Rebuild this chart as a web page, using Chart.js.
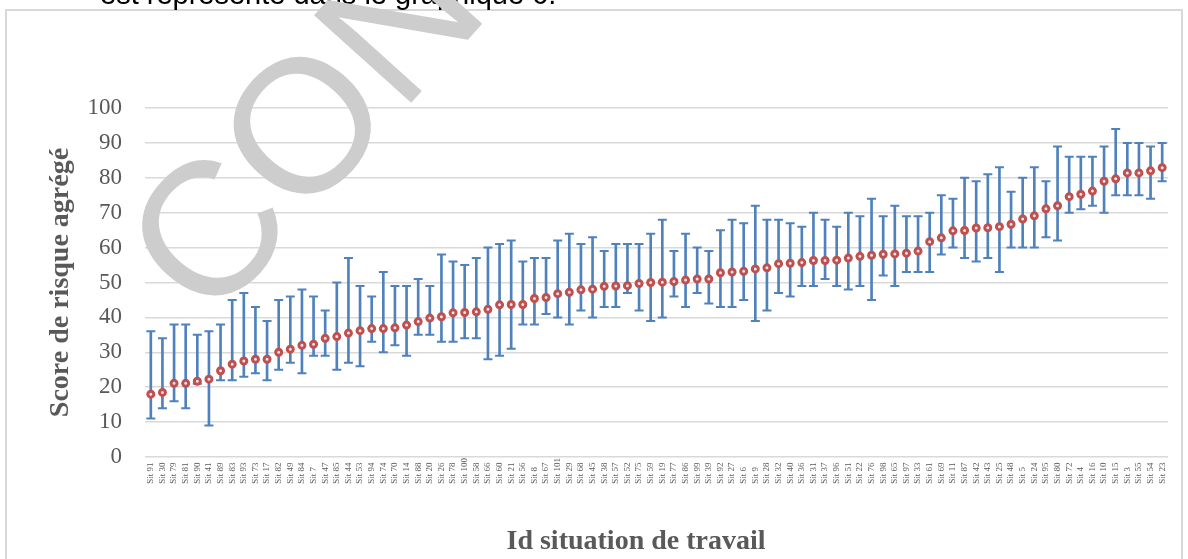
<!DOCTYPE html>
<html>
<head>
<meta charset="utf-8">
<script src="https://cdn.jsdelivr.net/npm/chart.js@4.4.0/dist/chart.umd.min.js"></script>
<style>
    body { margin: 0; background: #ffffff; }
    #wrap { width: 1188px; height: 559px; position: relative; }
</style>
</head>
<body>
<div id="wrap"><canvas id="riskChart"></canvas></div>
<script>
const situations = ['Sit 91', 'Sit 30', 'Sit 79', 'Sit 81', 'Sit 90', 'Sit 41', 'Sit 89', 'Sit 83', 'Sit 93', 'Sit 73',
    'Sit 17', 'Sit 82', 'Sit 49', 'Sit 84', 'Sit 7', 'Sit 47', 'Sit 85', 'Sit 44', 'Sit 53', 'Sit 94',
    'Sit 74', 'Sit 70', 'Sit 14', 'Sit 88', 'Sit 20', 'Sit 26', 'Sit 78', 'Sit 100', 'Sit 58', 'Sit 66',
    'Sit 60', 'Sit 21', 'Sit 56', 'Sit 8', 'Sit 67', 'Sit 101', 'Sit 29', 'Sit 68', 'Sit 45', 'Sit 38',
    'Sit 57', 'Sit 52', 'Sit 75', 'Sit 59', 'Sit 19', 'Sit 77', 'Sit 86', 'Sit 99', 'Sit 39', 'Sit 92',
    'Sit 27', 'Sit 6', 'Sit 9', 'Sit 28', 'Sit 32', 'Sit 40', 'Sit 36', 'Sit 31', 'Sit 37', 'Sit 96',
    'Sit 51', 'Sit 22', 'Sit 76', 'Sit 98', 'Sit 65', 'Sit 97', 'Sit 33', 'Sit 61', 'Sit 69', 'Sit 11',
    'Sit 87', 'Sit 42', 'Sit 43', 'Sit 25', 'Sit 48', 'Sit 5', 'Sit 24', 'Sit 95', 'Sit 80', 'Sit 72',
    'Sit 4', 'Sit 16', 'Sit 10', 'Sit 15', 'Sit 3', 'Sit 55', 'Sit 54', 'Sit 23'];

const scores = [18.0, 18.5, 21.1, 21.1, 21.7, 22.3, 24.7, 26.6, 27.5, 28.0,
    28.0, 30.0, 30.9, 32.0, 32.3, 34.0, 34.5, 35.5, 36.2, 36.8,
    36.8, 37.0, 37.8, 38.8, 39.8, 40.2, 41.3, 41.4, 41.6, 42.3,
    43.6, 43.7, 43.7, 45.4, 45.7, 46.8, 47.2, 47.9, 48.1, 48.9,
    49.0, 49.1, 49.7, 50.0, 50.1, 50.3, 50.7, 51.0, 51.0, 52.8,
    53.0, 53.2, 53.9, 54.2, 55.4, 55.5, 55.7, 56.3, 56.3, 56.4,
    57.0, 57.5, 57.8, 58.1, 58.2, 58.4, 59.0, 61.7, 62.8, 64.8,
    64.9, 65.6, 65.7, 66.0, 66.7, 68.2, 69.1, 71.1, 72.0, 74.6,
    75.3, 76.2, 79.0, 79.7, 81.4, 81.4, 82.0, 82.9];

const maxScores = [36, 34, 38, 38, 35, 36, 38, 45, 47, 43,
    39, 45, 46, 48, 46, 42, 50, 57, 49, 46,
    53, 49, 49, 51, 49, 58, 56, 55, 57, 60,
    61, 62, 56, 57, 57, 62, 64, 61, 63, 59,
    61, 61, 61, 64, 68, 59, 64, 60, 59, 65,
    68, 67, 72, 68, 68, 67, 66, 70, 68, 66,
    70, 69, 74, 69, 72, 69, 69, 70, 75, 74,
    80, 79, 81, 83, 76, 80, 83, 79, 89, 86,
    86, 86, 89, 94, 90, 90, 89, 90];

const minScores = [11, 14, 16, 14, 21, 9, 22, 22, 23, 24,
    22, 25, 27, 24, 29, 29, 25, 27, 26, 33,
    30, 32, 29, 35, 35, 33, 33, 34, 34, 28,
    29, 31, 38, 38, 41, 40, 38, 42, 40, 43,
    43, 47, 42, 39, 40, 46, 43, 47, 44, 43,
    43, 45, 39, 42, 47, 46, 49, 49, 51, 49,
    48, 49, 45, 52, 49, 53, 53, 53, 58, 60,
    57, 56, 57, 53, 60, 60, 60, 63, 62, 70,
    71, 72, 70, 75, 75, 75, 74, 79];

const yTicks = [0, 10, 20, 30, 40, 50, 60, 70, 80, 90, 100];

const textGray = '#595959';
const barBlue = '#4f81bd';
const pointRed = '#c0504d';

// page decorations: frame, clipped sentence above, watermark and x title
const pageDecor = {
    id: 'pageDecor',
    beforeDraw(chart) {
        const ctx = chart.ctx;
        ctx.save();
        ctx.strokeStyle = '#d9d9d9';
        ctx.lineWidth = 2;
        ctx.strokeRect(6, 10, 1176, 620);
        ctx.fillStyle = '#000000';
        ctx.font = '29px "Liberation Sans"';
        ctx.textBaseline = 'alphabetic';
        ctx.fillText('est représenté dans le graphique 6.', 100, 4);
        ctx.restore();
    },
    beforeDatasetsDraw(chart) {
        const ctx = chart.ctx;
        ctx.save();
        ctx.translate(210, 326);
        ctx.rotate(-48 * Math.PI / 180);
        ctx.fillStyle = '#cdcdcd';
        ctx.font = '190px "Liberation Sans"';
        ctx.textBaseline = 'alphabetic';
        ctx.fillText('CONFIDENTIEL', 0, 0);
        ctx.restore();
    },
    afterDraw(chart) {
        const ctx = chart.ctx;
        ctx.save();
        ctx.fillStyle = textGray;
        ctx.font = 'bold 28px "Liberation Serif"';
        ctx.textAlign = 'center';
        ctx.fillText('Id situation de travail', 636, 549);
        ctx.restore();
    }
};

function initRiskChart() {
    const ctx = document.getElementById('riskChart');

    new Chart(ctx, {
        type: 'bar',
        data: {
            labels: situations,
            datasets: [
                {
                    label: 'Score',
                    type: 'line',
                    data: scores,
                    showLine: false,
                    pointRadius: 3,
                    pointBorderWidth: 3,
                    pointBackgroundColor: '#dfe6f0',
                    pointBorderColor: pointRed,
                    order: 0
                },
                {
                    label: 'Max',
                    type: 'line',
                    data: maxScores,
                    showLine: false,
                    pointStyle: 'line',
                    pointRadius: 4.5,
                    pointBorderWidth: 2,
                    pointBorderColor: barBlue,
                    order: 1
                },
                {
                    label: 'Min',
                    type: 'line',
                    data: minScores,
                    showLine: false,
                    pointStyle: 'line',
                    pointRadius: 4.5,
                    pointBorderWidth: 2,
                    pointBorderColor: barBlue,
                    order: 1
                },
                {
                    label: 'Range',
                    data: minScores.map((lo, i) => [lo, maxScores[i]]),
                    backgroundColor: barBlue,
                    borderWidth: 0,
                    barThickness: 2,
                    order: 2
                }
            ]
        },
        options: {
            responsive: true,
            maintainAspectRatio: false,
            animation: false,
            events: [],
            layout: {
                padding: { top: 108, left: 30, right: 20, bottom: 0 }
            },
            plugins: {
                legend: { display: false },
                tooltip: { enabled: false }
            },
            scales: {
                x: {
                    grid: { display: false, drawTicks: false },
                    border: { display: false },
                    afterFit: function(scale) { scale.height = 102; },
                    ticks: {
                        autoSkip: false,
                        maxRotation: 90,
                        minRotation: 90,
                        padding: 1,
                        color: textGray,
                        font: { family: '"Liberation Serif"', size: 9 },
                        callback: function(value) {
                            const l = this.getLabelForValue(value);
                            return l + '  '.repeat(7 - l.length);
                        }
                    }
                },
                y: {
                    min: yTicks[0],
                    max: yTicks[yTicks.length - 1],
                    afterFit: function(scale) { scale.width = 115; },
                    afterBuildTicks: function(scale) {
                        scale.ticks = yTicks.map(v => ({ value: v }));
                    },
                    grid: { color: '#d9d9d9', lineWidth: 1.5, drawTicks: false },
                    border: { display: false },
                    ticks: {
                        padding: 23,
                        color: textGray,
                        font: { family: '"Liberation Serif"', size: 23 }
                    },
                    title: {
                        display: true,
                        text: 'Score de risque agrégé',
                        color: textGray,
                        font: { family: '"Liberation Serif"', size: 28, weight: 'bold' },
                        padding: { top: 14, bottom: 0 }
                    }
                }
            }
        },
        plugins: [pageDecor]
    });
}

document.addEventListener('DOMContentLoaded', function() {
    initRiskChart();
});
</script>
</body>
</html>
